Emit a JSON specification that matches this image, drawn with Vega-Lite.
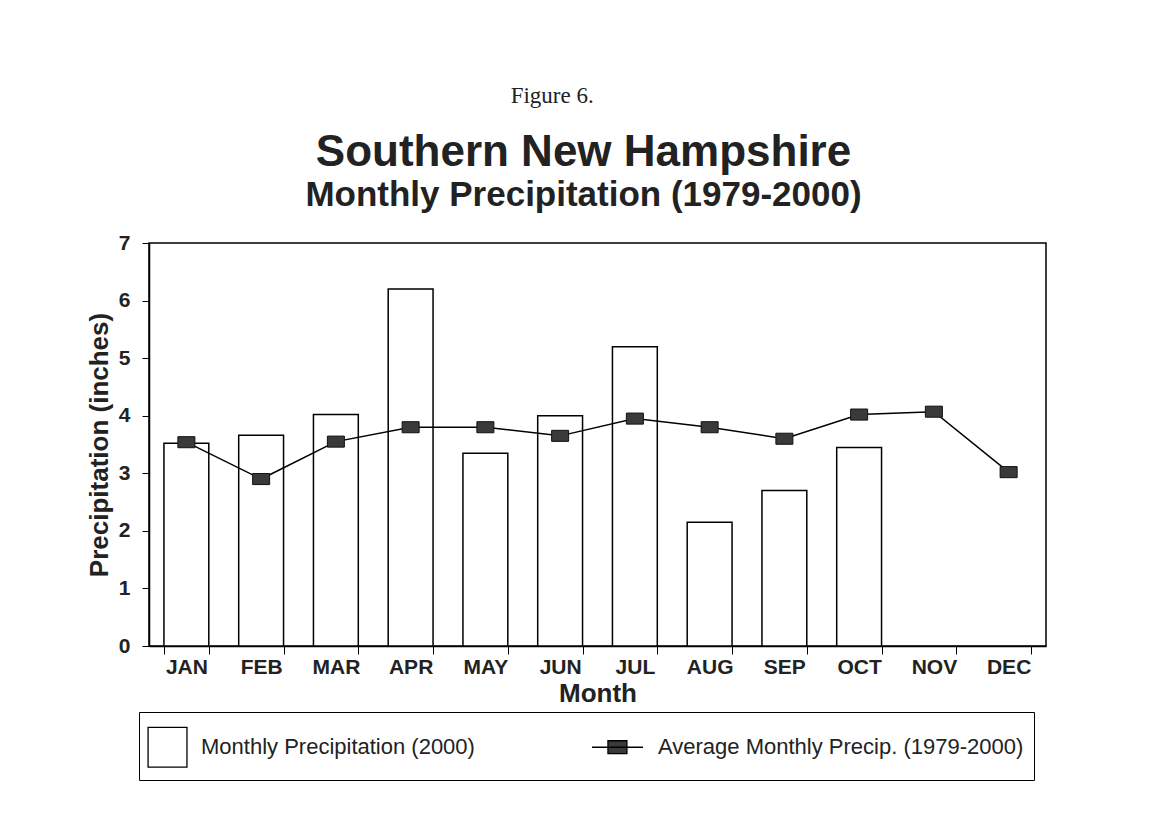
{
  "$schema": "https://vega.github.io/schema/vega-lite/v6.json",
  "background": "white",
  "padding": {"left": 85, "top": 85, "right": 100, "bottom": 30},
  "title": {"text": "Figure 6.", "font": "Liberation Serif", "fontSize": 23, "fontWeight": "normal", "color": "#222", "anchor": "middle", "offset": 22, "dx": -14},
  "datasets": {
    "bars": [
      {"month": "JAN", "series": "Monthly Precipitation (2000)", "value": 3.52},
      {"month": "FEB", "series": "Monthly Precipitation (2000)", "value": 3.66},
      {"month": "MAR", "series": "Monthly Precipitation (2000)", "value": 4.02},
      {"month": "APR", "series": "Monthly Precipitation (2000)", "value": 6.2},
      {"month": "MAY", "series": "Monthly Precipitation (2000)", "value": 3.35},
      {"month": "JUN", "series": "Monthly Precipitation (2000)", "value": 4.0},
      {"month": "JUL", "series": "Monthly Precipitation (2000)", "value": 5.2},
      {"month": "AUG", "series": "Monthly Precipitation (2000)", "value": 2.15},
      {"month": "SEP", "series": "Monthly Precipitation (2000)", "value": 2.7},
      {"month": "OCT", "series": "Monthly Precipitation (2000)", "value": 3.45}
    ],
    "avg": [
      {"month": "JAN", "series": "Average Monthly Precip. (1979-2000)", "value": 3.54},
      {"month": "FEB", "series": "Average Monthly Precip. (1979-2000)", "value": 2.9},
      {"month": "MAR", "series": "Average Monthly Precip. (1979-2000)", "value": 3.55},
      {"month": "APR", "series": "Average Monthly Precip. (1979-2000)", "value": 3.8},
      {"month": "MAY", "series": "Average Monthly Precip. (1979-2000)", "value": 3.8},
      {"month": "JUN", "series": "Average Monthly Precip. (1979-2000)", "value": 3.65},
      {"month": "JUL", "series": "Average Monthly Precip. (1979-2000)", "value": 3.95},
      {"month": "AUG", "series": "Average Monthly Precip. (1979-2000)", "value": 3.8},
      {"month": "SEP", "series": "Average Monthly Precip. (1979-2000)", "value": 3.6},
      {"month": "OCT", "series": "Average Monthly Precip. (1979-2000)", "value": 4.02},
      {"month": "NOV", "series": "Average Monthly Precip. (1979-2000)", "value": 4.07},
      {"month": "DEC", "series": "Average Monthly Precip. (1979-2000)", "value": 3.02}
    ]
  },
  "vconcat": [
    {
      "width": 897,
      "height": 403,
      "title": {
        "text": "Southern New Hampshire",
        "subtitle": "Monthly Precipitation (1979-2000)",
        "font": "Liberation Sans",
        "fontSize": 44,
        "fontWeight": "bold",
        "color": "#222",
        "subtitleFont": "Liberation Sans",
        "subtitleFontSize": 35,
        "subtitleFontWeight": "bold",
        "subtitleColor": "#222",
        "subtitlePadding": 3,
        "anchor": "middle",
        "dx": -14,
        "offset": 19
      },
      "encoding": {
        "x": {
          "field": "month",
          "type": "ordinal",
          "sort": ["JAN", "FEB", "MAR", "APR", "MAY", "JUN", "JUL", "AUG", "SEP", "OCT", "NOV", "DEC"],
          "scale": {"domain": ["JAN", "FEB", "MAR", "APR", "MAY", "JUN", "JUL", "AUG", "SEP", "OCT", "NOV", "DEC"], "paddingInner": 0.4, "paddingOuter": 0.2},
          "axis": {
            "title": "Month",
            "labelAngle": 0,
            "tickBand": "extent",
            "tickSize": 8,
            "labelPadding": 2,
            "titlePadding": 3
          }
        },
        "y": {
          "field": "value",
          "type": "quantitative",
          "scale": {"domain": [0, 7], "nice": false},
          "axis": {
            "title": "Precipitation (inches)",
            "values": [0, 1, 2, 3, 4, 5, 6, 7],
            "tickSize": 7,
            "labelPadding": 12,
            "titlePadding": 6,
            "grid": false
          }
        }
      },
      "layer": [
        {
          "data": {"name": "bars"},
          "mark": {"type": "bar", "stroke": "black", "strokeWidth": 1.5},
          "encoding": {
            "fill": {
              "field": "series",
              "type": "nominal",
              "scale": {
                "domain": ["Monthly Precipitation (2000)", "Average Monthly Precip. (1979-2000)"],
                "range": ["white", "#3a3a3a"]
              },
              "legend": {
                "title": null,
                "orient": "none",
                "legendX": -10,
                "legendY": 469,
                "direction": "horizontal",
                "strokeColor": "black",
                "padding": 10,
                "columnPadding": 114,
                "symbolSize": 2304,
                "symbolStrokeColor": "black",
                "symbolStrokeWidth": 1.3,
                "labelFont": "Liberation Sans",
                "labelFontSize": 22,
                "labelColor": "#222",
                "labelOffset": 2,
                "labelLimit": 500,
                "labelExpr": "datum.label == 'Average Monthly Precip. (1979-2000)' ? datum.label + '\u00a0\u00a0\u00a0' : datum.label",
                "encode": {
                  "symbols": {
                    "update": {
                      "shape": {"signal": "datum.value === 'Monthly Precipitation (2000)' ? 'M-1.08,-0.83H0.54V0.83H-1.08Z' : 'M0,-0.83L0,-0.83M0,0.83L0,0.83M-1.625,0H0.5M-0.96,-0.27H-0.17V0.27H-0.96Z'"}
                    }
                  }
                }
              }
            }
          }
        },
        {
          "data": {"name": "avg"},
          "mark": {"type": "line", "color": "black", "strokeWidth": 1.5},
          "encoding": {}
        },
        {
          "data": {"name": "avg"},
          "mark": {"type": "point", "shape": "M-1,-0.65H1V0.65H-1Z", "filled": true, "size": 289, "stroke": "#111", "strokeWidth": 1, "opacity": 1},
          "encoding": {
            "fill": {"field": "series", "type": "nominal"}
          }
        }
      ]
    }
  ],
  "config": {
    "view": {"stroke": "black", "strokeWidth": 1.5},
    "axis": {
      "labelFont": "Liberation Sans",
      "labelFontSize": 21,
      "labelFontWeight": "bold",
      "labelColor": "#222",
      "titleFont": "Liberation Sans",
      "titleFontSize": 26,
      "titleFontWeight": "bold",
      "titleColor": "#222",
      "domainColor": "black",
      "domainWidth": 1.5,
      "tickColor": "black",
      "tickWidth": 1
    }
  }
}
